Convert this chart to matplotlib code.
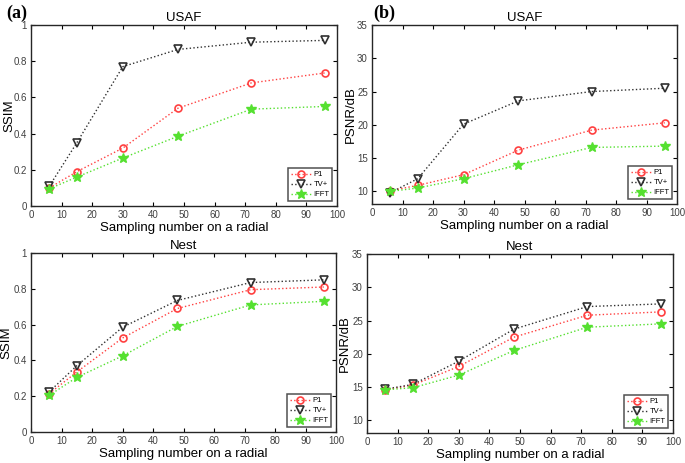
import matplotlib
matplotlib.use("Agg")
import matplotlib.pyplot as plt

plt.rcParams['font.family'] = ['Liberation Sans', 'DejaVu Sans']

samples = [6, 15, 30, 48, 72, 96]

usaf_ssim_p1 = [0.10, 0.19, 0.32, 0.54, 0.68, 0.735]
usaf_ssim_tv = [0.11, 0.35, 0.77, 0.865, 0.905, 0.915]
usaf_ssim_ifft = [0.095, 0.16, 0.265, 0.385, 0.535, 0.55]

usaf_psnr_p1 = [10.1, 10.9, 12.5, 16.2, 19.2, 20.3]
usaf_psnr_tv = [9.8, 11.9, 20.1, 23.6, 25.0, 25.5]
usaf_psnr_ifft = [10.0, 10.5, 11.9, 14.0, 16.6, 16.8]

nest_ssim_p1 = [0.215, 0.335, 0.525, 0.69, 0.795, 0.81]
nest_ssim_tv = [0.225, 0.37, 0.585, 0.735, 0.835, 0.85]
nest_ssim_ifft = [0.205, 0.305, 0.425, 0.59, 0.71, 0.73]

nest_psnr_p1 = [14.6, 15.3, 18.1, 22.5, 25.8, 26.3]
nest_psnr_tv = [14.7, 15.4, 18.9, 23.7, 27.1, 27.5]
nest_psnr_ifft = [14.6, 14.9, 16.8, 20.5, 24.0, 24.5]

labels = ['P1', 'TV+', 'IFFT']

fig = plt.figure(figsize=(6.85, 4.63), dpi=100)
W, H = 685, 463


def make_ax(x0, y0, x1, y1):
    return fig.add_axes([x0 / W, 1 - y1 / H, (x1 - x0) / W, (y1 - y0) / H])


def panel(ax, p1, tv, ifft, title, ylabel, ylim, yticks, ylab_x):
    ax.plot(samples, p1, ':', color='#ff4040', marker='o', ms=5, mfc='none',
            mew=1.2, lw=1.0, label=labels[0])
    ax.plot(samples, tv, ':', color='#303030', marker='v', ms=5.5, mfc='none',
            mew=1.2, lw=1.0, label=labels[1])
    ax.plot(samples, ifft, ':', color='#55e030', marker='*', ms=7,
            mec='#55e030', lw=1.0, label=labels[2])
    ax.set_xlim(0, 100)
    ax.set_ylim(*ylim)
    ax.set_xticks(range(0, 101, 10))
    ax.set_yticks(yticks)
    ax.tick_params(direction='in', top=True, right=True, labelsize=7,
                   labelcolor='#404040', length=3, width=0.8, pad=3)
    for s in ax.spines.values():
        s.set_linewidth(1.0)
        s.set_color('#262626')
    ax.set_title(title, fontsize=9.5, pad=3)
    ax.set_ylabel(ylabel, fontsize=9.5)
    # label anchor is its right edge (rotated text)
    ax.yaxis.set_label_coords(ylab_x, 0.5)
    ax.set_xlabel('Sampling number on a radial', fontsize=9.5, labelpad=1)
    leg = ax.legend(loc='lower right', fontsize=5.5, frameon=True, fancybox=False,
                    edgecolor='#262626', handlelength=2.6, borderpad=0.4,
                    labelspacing=0.35, handletextpad=0.3, borderaxespad=0.6)
    leg.get_frame().set_linewidth(1.1)


ssim_ticks = [0, 0.2, 0.4, 0.6, 0.8, 1]
ssim_labels = ['0', '0.2', '0.4', '0.6', '0.8', '1']
psnr_ticks = [10, 15, 20, 25, 30, 35]

ax1 = make_ax(31, 25, 337, 206)
panel(ax1, usaf_ssim_p1, usaf_ssim_tv, usaf_ssim_ifft, 'USAF', 'SSIM',
      (0, 1), ssim_ticks, -0.05)
ax1.set_yticklabels(ssim_labels)

ax2 = make_ax(372, 25, 677, 204)
panel(ax2, usaf_psnr_p1, usaf_psnr_tv, usaf_psnr_ifft, 'USAF', 'PSNR/dB',
      (8.1, 35), psnr_ticks, -0.05)

ax3 = make_ax(31, 253, 336, 432)
panel(ax3, nest_ssim_p1, nest_ssim_tv, nest_ssim_ifft, 'Nest', 'SSIM',
      (0, 1), ssim_ticks, -0.06)
ax3.set_yticklabels(ssim_labels)

ax4 = make_ax(367, 254, 673, 433)
panel(ax4, nest_psnr_p1, nest_psnr_tv, nest_psnr_ifft, 'Nest', 'PSNR/dB',
      (8.1, 35), psnr_ticks, -0.052)

fig.text(6 / W, 1 - 13 / H, '(a)', fontsize=13, fontweight='bold',
         family='Liberation Serif', va='center', ha='left')
fig.text(373 / W, 1 - 13 / H, '(b)', fontsize=13, fontweight='bold',
         family='Liberation Serif', va='center', ha='left')

fig.savefig('out.png', dpi=100)
